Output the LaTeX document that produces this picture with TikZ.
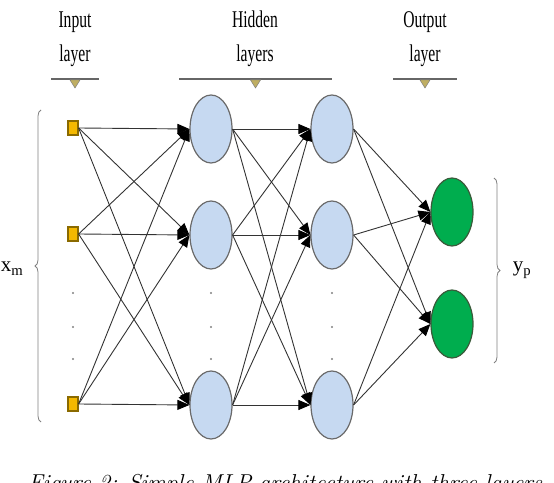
\documentclass[tikz,border=0pt]{standalone}
\usepackage{fontspec}
\newfontfamily\labelfont{Liberation Serif}
\usepackage{xcolor}
\usepackage{tikz}
\usetikzlibrary{positioning,calc,arrows.meta,shapes.geometric,decorations.pathreplacing}

\definecolor{inputfill}{HTML}{F4B800}
\definecolor{inputdraw}{HTML}{8A6A00}
\definecolor{hiddenfill}{HTML}{C6D9F1}
\definecolor{nodedraw}{HTML}{6A6A6A}
\definecolor{outfill}{HTML}{00AD4E}
\definecolor{outdraw}{HTML}{3A5A3A}
\definecolor{edgecol}{HTML}{333333}
\definecolor{markfill}{HTML}{BFAE62}

% narrow, tall label text
\newcommand{\narrowtext}[1]{\scalebox{0.65}[1]{\begin{tabular}[b]{@{}c@{}}#1\end{tabular}}}

\begin{document}
\begin{tikzpicture}[x=1pt,y=1pt,
					inp/.style={
						draw=inputdraw, fill=inputfill, line width=1.2pt,
						minimum width=10pt, minimum height=14pt, inner sep=0pt
					},
					hid/.style={
						ellipse, draw=nodedraw, fill=hiddenfill, line width=1.2pt,
						minimum width=42pt, minimum height=68pt, inner sep=0pt
					},
					outn/.style={
						ellipse, draw=outdraw, fill=outfill, line width=1.2pt,
						minimum width=42pt, minimum height=68pt, inner sep=0pt
					},
					conn/.style={
						draw=edgecol, line width=0.9pt,
						-{Triangle[length=12pt,width=10pt,color=black]}
					},
					lbl/.style={
						font=\labelfont\fontsize{24}{34}\selectfont, inner sep=0pt, anchor=base
					},
					brace/.style={
						draw=gray, line width=0.8pt, decorate, decoration={brace, amplitude=6pt}
					}
					]
					\useasboundingbox (0,0) rectangle (554,482);
					\clip (0,0) rectangle (554,482);
					
					% layer titles
					\node[lbl] (tin) at (75,420) {\narrowtext{Input\\layer}};
					\node[lbl] (thid) at (255,420) {\narrowtext{Hidden\\layers}};
					\node[lbl] (tout) at (425,420) {\narrowtext{Output\\layer}};
					
					% bars with markers
					\foreach \c/\w in {75/24, 255.5/76.5, 425/32} {
						\draw[line width=1.8pt, color=gray!80!black] (\c-\w,403) -- (\c+\w,403);
						\filldraw[fill=markfill, draw=gray, line width=0.5pt] (\c-5,402) -- (\c+5,402) -- (\c,394) -- cycle;
					}
					
					% nodes
					\foreach \i/\y in {1/354, 2/248, 3/78} {
						\node[inp] (in\i) at (73,\y) {};
						\node[hid] (ha\i) at (211,\y-1) {};
						\node[hid] (hb\i) at (332,\y-1) {};
					}
					\node[outn] (out1) at (452,270) {};
					\node[outn] (out2) at (452,158) {};
					
					% dots
					\foreach \x in {73,211,332} {
						\foreach \y in {189,155,123} {
							\fill[gray] (\x,\y) circle (1.1pt);
						}
					}
					
					% connections
					\foreach \i in {1,2,3} {
						\foreach \j in {1,2,3} {
							\draw[conn] (in\i.east) -- (ha\j.west);
							\draw[conn] (ha\i.east) -- (hb\j.west);
						}
						\foreach \j in {1,2} {
							\draw[conn] (hb\i.east) -- (out\j.west);
						}
					}
					
					% braces
					\draw[brace] (41,60) -- (41,372);
					\draw[brace] (494,304) -- (494,119);
					\node[font=\labelfont\fontsize{21}{24}\selectfont, anchor=base] (xm) at (12,210) {x\textsubscript{m}};
					\node[font=\labelfont\fontsize{21}{24}\selectfont, anchor=base] (yp) at (522,210) {y\textsubscript{p}};
					
					% caption (cut off by the frame, as in the source)
					\node[anchor=base west, inner sep=0pt, font=\itshape\fontsize{23}{26}\selectfont] (cap) at (28,-8) {Figure 2: Simple MLP architecture with three layers};
				\end{tikzpicture}
\end{document}
